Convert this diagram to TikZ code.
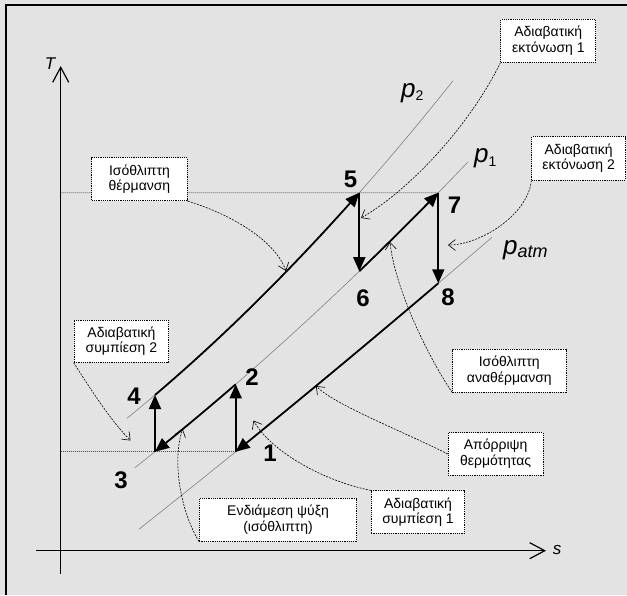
\documentclass[tikz,border=0pt]{standalone}
\usepackage{fontspec}
\setmainfont{Liberation Sans}
\usetikzlibrary{arrows.meta}
\definecolor{bg}{RGB}{227,227,227}
\begin{document}
\begin{tikzpicture}[x=1pt,y=-1pt,
  declare function={
    ptwo(\x)=395-85.0*((\x-155)/100)-6.86*((\x-155)/100)^2;
    pone(\x)=384.3-86.667*((\x-235.7)/100)-3.901*((\x-235.7)/100)^2;
    patm(\x)=451.7-81.1*((\x-235.7)/100)-1.0*((\x-235.7)/100)^2;},
  isobar/.style={black!50, line width=0.6pt},
  process/.style={line width=1.8pt, -{Triangle[length=14pt,width=12pt]}},
  processrev/.style={line width=1.8pt, {Triangle[length=14pt,width=12pt]}-},
  level/.style={black!70, line width=0.8pt, dash pattern=on 1pt off 1pt},
  axis/.style={line width=1.4pt, -{Straight Barb[length=15pt,width=16pt,line width=1.2pt]}},
  note/.style={draw, fill=white, line width=0.7pt, dash pattern=on 1.2pt off 1pt,
    align=center, inner sep=0pt, minimum height=43pt,
    font=\fontsize{14}{15.5}\selectfont},
  pointer/.style={line width=0.6pt, dash pattern=on 2pt off 1.2pt,
    -{Straight Barb[length=7pt,width=11pt]}},
  state/.style={font=\fontsize{24}{24}\selectfont\bfseries, inner sep=0pt},
  axislabel/.style={font=\fontsize{17}{17}\selectfont\itshape, inner sep=0pt},
]
% canvas and frame
\fill[bg] (0,0) rectangle (627,595);
\useasboundingbox (0,0) rectangle (627,595);
\draw[line width=2pt] (6,595) -- (6,5) -- (627,5);

% axes
\coordinate (T0) at (60.7,574);
\coordinate (T1) at (60.7,66);
\coordinate (S0) at (36,550.7);
\coordinate (S1) at (546,550.7);
\draw[axis] (T0) -- (T1);
\draw[axis] (S0) -- (S1);
\node[axislabel] (lT) at (50,63.3) {T};
\node[axislabel] (ls) at (557,550) {s};

% isobars
\draw[isobar] plot[domain=127:453, samples=80] (\x,{ptwo(\x)});
\draw[isobar] plot[domain=135:468, samples=80] (\x,{pone(\x)});
\draw[isobar] plot[domain=139:492, samples=80] (\x,{patm(\x)});

% state points
\coordinate (s1) at (235.7,{patm(235.7)});
\coordinate (s2) at (235.7,{pone(235.7)});
\coordinate (s3) at (155,{pone(155)});
\coordinate (s4) at (155,{ptwo(155)});
\coordinate (s5) at (359.3,{ptwo(359.3)});
\coordinate (s6) at (359.3,{pone(359.3)});
\coordinate (s7) at (438.3,{pone(438.3)});
\coordinate (s8) at (438.3,{patm(438.3)});
\coordinate (Thi) at (60.7,{ptwo(359.3)});
\coordinate (Tlo) at (60.7,{patm(235.7)});

% equal-temperature levels
\draw[level] (Thi) -- (s7);
\draw[level] (Tlo) -- (s1);

% annotation boxes
\node[note, minimum width=95pt] (nA) at (548.3,40.8) {Αδιαβατική\\εκτόνωση 1};
\node[note, minimum width=95.6pt] (nB) at (139.5,179.2) {Ισόθλιπτη\\θέρμανση};
\node[note, minimum width=93.8pt, minimum height=43.3pt] (nC) at (578.6,158.4) {Αδιαβατική\\εκτόνωση 2};
\node[note, minimum width=113.3pt] (nD) at (509.3,370.8) {Ισόθλιπτη\\αναθέρμανση};
\node[note, minimum width=95.2pt, minimum height=42.5pt] (nE) at (495.6,453.9) {Απόρριψη\\θερμότητας};
\node[note, minimum width=93.6pt, minimum height=42.5pt] (nF) at (418,512) {Αδιαβατική\\συμπίεση 1};
\node[note, minimum width=157.5pt] (nG) at (278,519.5) {Ενδιάμεση ψύξη\\(ισόθλιπτη)};
\node[note, minimum width=94.8pt, minimum height=42.4pt] (nH) at (121.4,341.2) {Αδιαβατική\\συμπίεση 2};

% pointer targets
\coordinate (tA) at (361,218);
\coordinate (tB) at (286,271);
\coordinate (tC) at (448,245);
\coordinate (tD) at (390,242);
\coordinate (tE) at (316,386);
\coordinate (tF) at (253.5,420.5);
\coordinate (tG) at (182.7,429);
\coordinate (tH) at (130.5,440.5);

% pointers
\draw[pointer] (nA.south west) .. controls (470,125) and (410,190) .. (tA);
\draw[pointer] (nB.south east) .. controls (230,214) and (275,240) .. (tB);
\draw[pointer] (nC.south west) .. controls (528,215) and (480,245) .. (tC);
\draw[pointer] (nD.south west) .. controls (430,360) and (395,290) .. (tD);
\draw[pointer] (nE.west) .. controls (400,430) and (335,405) .. (tE);
\draw[pointer] (nF.north west) .. controls (320,480) and (270,450) .. (tF);
\draw[pointer] (nG.south west) .. controls (180,510) and (172,460) .. (tG);
\draw[pointer] (nH.south west) .. controls (88,385) and (110,420) .. (tH);

% cycle processes
\draw[process] (s1) -- (s2);
\draw[processrev] plot[domain=155:235.7, samples=40] (\x,{pone(\x)});
\draw[process] (s3) -- (s4);
\draw[process] plot[domain=155:359.3, samples=60] (\x,{ptwo(\x)});
\draw[process] (s5) -- (s6);
\draw[process] plot[domain=359.3:438.3, samples=40] (\x,{pone(\x)});
\draw[process] (s7) -- (s8);
\draw[processrev] plot[domain=235.7:438.3, samples=60] (\x,{patm(\x)});

% state numbers
\node[state] (n1) at (270,453.5) {1};
\node[state] (n2) at (252,376.7) {2};
\node[state] (n3) at (121,480) {3};
\node[state] (n4) at (134,396.6) {4};
\node[state] (n5) at (350.6,179.3) {5};
\node[state] (n6) at (363,298.5) {6};
\node[state] (n7) at (454.6,205) {7};
\node[state] (n8) at (448,297.5) {8};

% pressure labels
\node[anchor=base west, inner sep=0pt] (lp2) at (401,97)
  {\fontsize{26}{26}\selectfont\itshape p\raisebox{-3pt}{\fontsize{14}{14}\selectfont\upshape 2}};
\node[anchor=base west, inner sep=0pt] (lp1) at (474,162)
  {\fontsize{26}{26}\selectfont\itshape p\raisebox{-4pt}{\fontsize{14}{14}\selectfont\upshape 1}};
\node[anchor=base west, inner sep=0pt] (lpa) at (503,254)
  {\fontsize{26}{26}\selectfont\itshape p\raisebox{-3pt}{\fontsize{18}{18}\selectfont atm}};
\end{tikzpicture}
\end{document}
